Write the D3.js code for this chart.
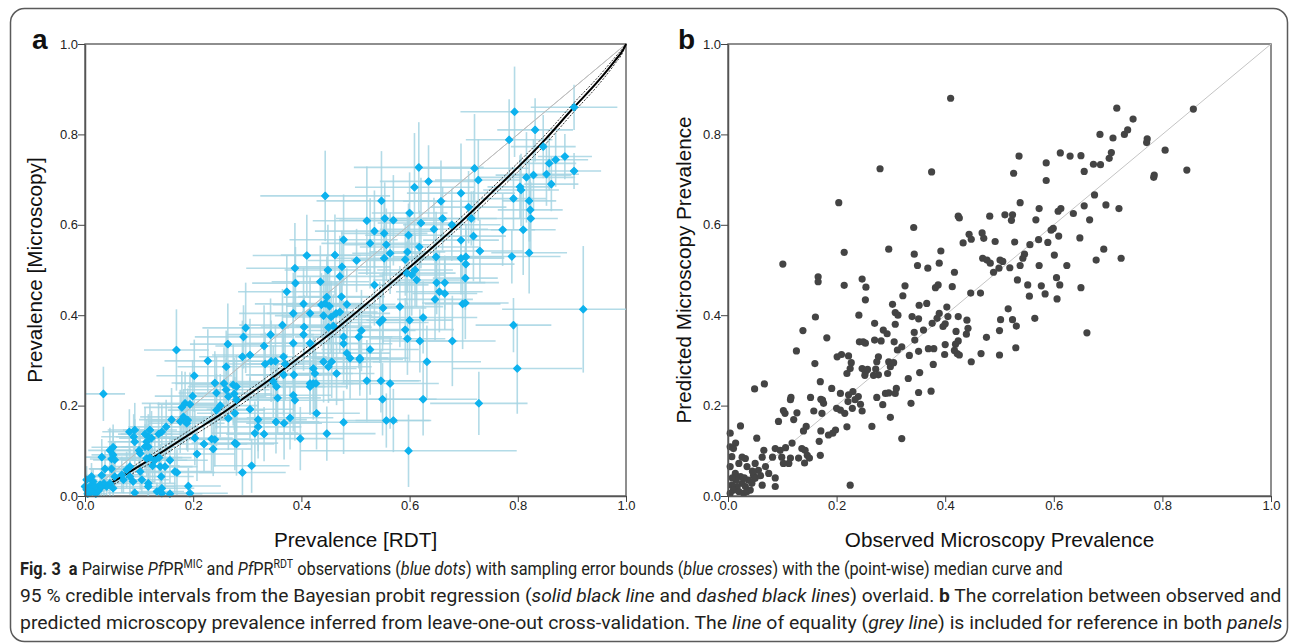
<!DOCTYPE html>
<html>
<head>
<meta charset="utf-8">
<script src="https://cdn.jsdelivr.net/npm/d3@7"></script>
<style>
  body { margin: 0; background: #fff; }
  svg { display: block; }
</style>
</head>
<body>
<svg id="chart" width="1293" height="644"></svg>
<script>
const width = 1293;
const height = 644;

// panel a: [rdt, mic, rdt half-width, mic half-width]
const obsA = [
  [0.794,0.85,0.10,0.10],[0.904,0.86,0.08,0.05],[0.832,0.81,0.07,0.07],[0.784,0.788,0.08,0.09],
  [0.847,0.773,0.06,0.07],[0.887,0.751,0.05,0.05],[0.870,0.744,0.06,0.06],[0.858,0.736,0.05,0.06],
  [0.853,0.712,0.06,0.07],[0.862,0.690,0.05,0.06],[0.904,0.719,0.05,0.04],[0.829,0.710,0.07,0.08],
  [0.816,0.705,0.09,0.10],[0.804,0.684,0.06,0.07],[0.806,0.677,0.07,0.08],[0.792,0.658,0.06,0.07],
  [0.821,0.653,0.05,0.09],[0.823,0.633,0.06,0.07],[0.824,0.614,0.05,0.08],[0.81,0.589,0.06,0.10],
  [0.821,0.538,0.07,0.09],[0.772,0.589,0.06,0.08],[0.789,0.53,0.09,0.06],[0.72,0.725,0.10,0.12],
  [0.727,0.699,0.08,0.09],[0.695,0.670,0.10,0.11],[0.709,0.639,0.07,0.08],[0.714,0.614,0.09,0.06],
  [0.718,0.575,0.06,0.10],[0.73,0.542,0.08,0.07],[0.617,0.727,0.12,0.10],[0.635,0.696,0.09,0.08],
  [0.609,0.683,0.11,0.12],[0.658,0.652,0.07,0.09],[0.661,0.614,0.10,0.07],[0.621,0.604,0.08,0.10],
  [0.678,0.60,0.09,0.08],[0.695,0.566,0.07,0.09],[0.645,0.59,0.10,0.07],[0.649,0.529,0.08,0.10],
  [0.618,0.551,0.11,0.08],[0.598,0.577,0.08,0.07],[0.596,0.54,0.07,0.09],[0.592,0.523,0.10,0.08],
  [0.595,0.493,0.09,0.07],[0.61,0.50,0.07,0.08],[0.613,0.478,0.08,0.06],[0.604,0.489,0.06,0.09],
  [0.695,0.526,0.08,0.08],[0.704,0.529,0.07,0.06],[0.704,0.513,0.09,0.09],[0.703,0.482,0.06,0.07],
  [0.698,0.425,0.07,0.10],[0.703,0.427,0.08,0.08],[0.65,0.472,0.09,0.07],[0.655,0.452,0.08,0.09],
  [0.665,0.448,0.06,0.08],[0.665,0.472,0.10,0.06],[0.647,0.435,0.07,0.09],[0.792,0.378,0.07,0.06],
  [0.799,0.282,0.12,0.10],[0.728,0.205,0.09,0.07],[0.921,0.413,0.15,0.14],[0.679,0.343,0.08,0.10],
  [0.632,0.297,0.10,0.08],[0.625,0.214,0.10,0.08],[0.598,0.10,0.20,0.08],[0.548,0.653,0.12,0.11],
  [0.554,0.614,0.09,0.08],[0.57,0.61,0.10,0.10],[0.60,0.626,0.07,0.09],[0.535,0.586,0.11,0.09],
  [0.553,0.581,0.08,0.07],[0.527,0.559,0.09,0.10],[0.521,0.609,0.10,0.12],[0.557,0.556,0.08,0.08],
  [0.564,0.537,0.07,0.09],[0.553,0.526,0.09,0.07],[0.535,0.467,0.10,0.09],[0.551,0.416,0.08,0.08],
  [0.545,0.384,0.09,0.09],[0.55,0.39,0.07,0.07],[0.564,0.249,0.09,0.10],[0.55,0.214,0.10,0.08],
  [0.557,0.167,0.08,0.06],[0.57,0.167,0.07,0.07],[0.582,0.419,0.08,0.09],[0.592,0.368,0.09,0.07],
  [0.596,0.348,0.07,0.08],[0.60,0.389,0.08,0.09],[0.619,0.343,0.07,0.07],[0.625,0.395,0.10,0.08],
  [0.527,0.324,0.09,0.10],[0.508,0.302,0.08,0.08],[0.521,0.255,0.10,0.09],[0.547,0.255,0.07,0.07],
  [0.478,0.567,0.10,0.10],[0.475,0.507,0.09,0.08],[0.471,0.486,0.08,0.09],[0.502,0.521,0.09,0.07],
  [0.462,0.533,0.10,0.09],[0.449,0.50,0.08,0.10],[0.435,0.474,0.09,0.08],[0.444,0.664,0.12,0.10],
  [0.41,0.532,0.10,0.09],[0.388,0.504,0.09,0.10],[0.389,0.471,0.08,0.08],[0.385,0.404,0.10,0.09],
  [0.404,0.425,0.09,0.08],[0.405,0.374,0.08,0.07],[0.385,0.338,0.09,0.09],[0.416,0.404,0.08,0.08],
  [0.437,0.423,0.09,0.07],[0.444,0.426,0.07,0.08],[0.447,0.44,0.08,0.09],[0.455,0.396,0.09,0.08],
  [0.464,0.404,0.10,0.07],[0.452,0.42,0.08,0.08],[0.471,0.407,0.07,0.09],[0.484,0.424,0.09,0.08],
  [0.474,0.441,0.08,0.07],[0.441,0.399,0.09,0.09],[0.45,0.373,0.08,0.08],[0.459,0.376,0.07,0.07],
  [0.478,0.352,0.09,0.08],[0.511,0.366,0.10,0.09],[0.506,0.352,0.08,0.07],[0.478,0.337,0.09,0.09],
  [0.484,0.316,0.08,0.08],[0.49,0.305,0.07,0.09],[0.508,0.305,0.09,0.07],[0.404,0.357,0.08,0.08],
  [0.416,0.338,0.09,0.09],[0.422,0.282,0.08,0.07],[0.425,0.271,0.07,0.08],[0.416,0.249,0.08,0.07],
  [0.422,0.249,0.09,0.08],[0.416,0.242,0.07,0.06],[0.427,0.249,0.08,0.07],[0.456,0.297,0.09,0.08],
  [0.441,0.297,0.08,0.09],[0.465,0.271,0.07,0.07],[0.45,0.286,0.08,0.08],[0.398,0.127,0.08,0.07],
  [0.447,0.138,0.09,0.06],[0.428,0.183,0.08,0.08],[0.478,0.163,0.10,0.07],[0.388,0.212,0.09,0.09],
  [0.385,0.223,0.07,0.08],[0.386,0.268,0.08,0.08],
  [0.169,0.323,0.06,0.09],[0.034,0.226,0.04,0.06],[0.202,0.266,0.07,0.08],[0.227,0.299,0.08,0.07],
  [0.261,0.286,0.09,0.08],[0.264,0.336,0.07,0.09],[0.291,0.308,0.08,0.08],[0.293,0.352,0.09,0.07],
  [0.297,0.372,0.08,0.10],[0.305,0.312,0.07,0.08],[0.331,0.332,0.09,0.09],[0.343,0.357,0.08,0.08],
  [0.333,0.292,0.07,0.07],[0.344,0.298,0.08,0.09],[0.352,0.298,0.09,0.08],[0.367,0.308,0.08,0.07],
  [0.37,0.292,0.07,0.08],[0.348,0.253,0.08,0.08],[0.354,0.242,0.09,0.07],[0.367,0.268,0.07,0.09],
  [0.356,0.217,0.08,0.08],[0.24,0.25,0.08,0.07],[0.243,0.228,0.07,0.08],[0.257,0.249,0.09,0.08],
  [0.261,0.235,0.08,0.07],[0.265,0.22,0.07,0.08],[0.274,0.246,0.08,0.09],[0.28,0.242,0.09,0.07],
  [0.276,0.226,0.07,0.08],[0.28,0.213,0.08,0.07],[0.277,0.183,0.07,0.08],[0.265,0.172,0.08,0.07],
  [0.243,0.19,0.09,0.08],[0.25,0.20,0.07,0.07],[0.179,0.196,0.07,0.08],[0.185,0.205,0.08,0.07],
  [0.194,0.203,0.06,0.07],[0.199,0.221,0.07,0.08],[0.182,0.175,0.08,0.06],[0.19,0.168,0.07,0.07],
  [0.176,0.165,0.06,0.07],[0.188,0.161,0.07,0.06],[0.203,0.128,0.07,0.06],[0.22,0.115,0.08,0.06],
  [0.234,0.126,0.07,0.07],[0.24,0.125,0.08,0.06],[0.237,0.104,0.07,0.06],[0.277,0.117,0.08,0.06],
  [0.28,0.115,0.07,0.07],[0.207,0.093,0.07,0.06],[0.191,0.022,0.06,0.04],[0.17,0.052,0.07,0.05],
  [0.305,0.192,0.08,0.07],[0.32,0.169,0.09,0.07],[0.291,0.052,0.08,0.05],[0.308,0.067,0.07,0.06],
  [0.314,0.139,0.08,0.07],[0.331,0.137,0.07,0.06],[0.32,0.153,0.08,0.07],[0.353,0.164,0.08,0.07],
  [0.368,0.161,0.07,0.08],[0.379,0.173,0.08,0.07],[0.16,0.169,0.06,0.07],[0.15,0.153,0.07,0.06],
  [0.142,0.142,0.06,0.06],[0.136,0.137,0.07,0.07],[0.123,0.128,0.06,0.06],[0.12,0.146,0.05,0.06],
  [0.117,0.131,0.06,0.05],[0.111,0.137,0.05,0.06],[0.114,0.12,0.06,0.05],[0.092,0.146,0.05,0.06],
  [0.082,0.142,0.05,0.05],[0.09,0.131,0.06,0.05],[0.092,0.12,0.05,0.05],[0.111,0.109,0.06,0.05],
  [0.117,0.109,0.05,0.05],[0.10,0.101,0.06,0.05],[0.102,0.094,0.05,0.05],[0.12,0.085,0.06,0.05],
  [0.114,0.083,0.05,0.04],[0.129,0.079,0.06,0.05],[0.139,0.065,0.06,0.05],[0.125,0.067,0.05,0.04],
  [0.137,0.085,0.06,0.05],[0.157,0.079,0.07,0.05],[0.148,0.065,0.06,0.05],[0.166,0.054,0.07,0.05],
  [0.141,0.043,0.06,0.04],[0.117,0.028,0.05,0.03],[0.142,0.017,0.06,0.03],[0.133,0.01,0.05,0.02],
  [0.117,0.021,0.05,0.03],[0.102,0.054,0.05,0.04],[0.105,0.036,0.05,0.03],[0.089,0.032,0.04,0.03],
  [0.083,0.043,0.05,0.04],[0.071,0.036,0.04,0.03],[0.068,0.047,0.04,0.04],[0.077,0.058,0.05,0.04],
  [0.083,0.065,0.05,0.04],[0.052,0.091,0.04,0.05],[0.049,0.082,0.04,0.04],[0.055,0.08,0.04,0.04],
  [0.031,0.086,0.03,0.04],[0.046,0.101,0.04,0.05],[0.052,0.108,0.04,0.05],[0.037,0.06,0.03,0.04],
  [0.031,0.046,0.03,0.03],[0.049,0.06,0.04,0.04],[0.055,0.043,0.04,0.03],[0.046,0.028,0.03,0.03],
  [0.052,0.017,0.04,0.02],[0.04,0.021,0.03,0.02],[0.028,0.025,0.03,0.02],[0.015,0.032,0.02,0.03],
  [0.009,0.021,0.02,0.02],[0.003,0.014,0.01,0.02],[0.0,0.021,0.01,0.02],[0.003,0.036,0.02,0.03],
  [0.012,0.043,0.02,0.03],[0.092,0.007,0.05,0.01],[0.142,0.006,0.06,0.01],[0.157,0.005,0.06,0.01],
  [0.194,0.006,0.07,0.01],[0.373,0.452,0.09,0.08],[0.365,0.378,0.08,0.08],
  [0.005,0.005,0.01,0.01],[0.01,0.008,0.02,0.01],[0.015,0.01,0.02,0.02],[0.02,0.005,0.02,0.01],
  [0.008,0.015,0.01,0.02],[0.025,0.012,0.02,0.02],[0.03,0.02,0.03,0.02],[0.035,0.028,0.03,0.03],
  [0.018,0.022,0.02,0.02]
];

// probit regression: median and 95% credible interval
const curveRdt   = [0, 0.01, 0.02, 0.05, 0.1, 0.15, 0.2, 0.25, 0.3, 0.35, 0.4, 0.45, 0.5, 0.55, 0.6, 0.65, 0.7, 0.75, 0.8, 0.85, 0.9, 0.95, 0.98, 0.995, 1];
const curveMed   = [0, 0.005, 0.011, 0.030, 0.066, 0.103, 0.142, 0.180, 0.222, 0.265, 0.310, 0.356, 0.405, 0.455, 0.506, 0.558, 0.612, 0.669, 0.727, 0.788, 0.855, 0.920, 0.964, 0.988, 1];
const curveLower = [0, 0.003, 0.008, 0.024, 0.058, 0.094, 0.133, 0.171, 0.212, 0.255, 0.300, 0.346, 0.395, 0.445, 0.497, 0.549, 0.603, 0.659, 0.717, 0.777, 0.845, 0.911, 0.957, 0.984, 1];
const curveUpper = [0, 0.008, 0.016, 0.036, 0.074, 0.112, 0.151, 0.190, 0.232, 0.275, 0.320, 0.366, 0.415, 0.465, 0.516, 0.568, 0.622, 0.679, 0.737, 0.798, 0.865, 0.929, 0.971, 0.992, 1];

// panel b: [observed, predicted]
const obsB = [
  [0.204,0.649],[0.101,0.513],[0.214,0.539],[0.166,0.485],[0.166,0.474],[0.214,0.466],[0.247,0.48],
  [0.254,0.462],[0.253,0.434],[0.296,0.546],[0.326,0.465],[0.322,0.443],[0.342,0.594],[0.343,0.535],
  [0.349,0.51],[0.368,0.504],[0.392,0.542],[0.389,0.515],[0.424,0.619],[0.426,0.615],[0.482,0.619],
  [0.433,0.56],[0.444,0.579],[0.448,0.568],[0.468,0.582],[0.471,0.57],[0.492,0.563],[0.469,0.526],
  [0.477,0.522],[0.483,0.515],[0.489,0.495],[0.499,0.504],[0.382,0.461],[0.387,0.467],[0.417,0.495],
  [0.413,0.463],[0.447,0.449],[0.465,0.449],[0.303,0.424],[0.308,0.406],[0.313,0.40],[0.241,0.40],
  [0.352,0.422],[0.366,0.426],[0.339,0.397],[0.351,0.392],[0.403,0.418],[0.389,0.404],[0.385,0.393],
  [0.396,0.375],[0.405,0.397],[0.40,0.381],[0.424,0.397],[0.44,0.389],[0.442,0.371],[0.439,0.358],
  [0.42,0.364],[0.424,0.343],[0.376,0.382],[0.36,0.367],[0.343,0.362],[0.344,0.345],[0.27,0.382],
  [0.286,0.367],[0.293,0.359],[0.282,0.343],[0.27,0.345],[0.308,0.38],[0.242,0.341],[0.249,0.341],
  [0.253,0.338],[0.306,0.341],[0.32,0.33],[0.312,0.323],[0.138,0.366],[0.161,0.396],[0.182,0.35],
  [0.126,0.321],[0.16,0.293],[0.201,0.308],[0.209,0.313],[0.222,0.31],[0.227,0.295],[0.219,0.271],
  [0.225,0.282],[0.277,0.308],[0.274,0.297],[0.272,0.281],[0.277,0.268],[0.296,0.297],[0.299,0.286],
  [0.294,0.271],[0.305,0.295],[0.247,0.282],[0.253,0.274],[0.257,0.28],[0.252,0.267],[0.268,0.267],
  [0.334,0.311],[0.351,0.32],[0.369,0.326],[0.379,0.326],[0.40,0.335],[0.419,0.336],[0.399,0.313],
  [0.417,0.322],[0.422,0.315],[0.426,0.312],[0.378,0.291],[0.353,0.273],[0.332,0.26],[0.448,0.297],
  [0.466,0.315],[0.476,0.351],[0.50,0.366],[0.50,0.312],[0.17,0.253],[0.191,0.238],[0.207,0.227],
  [0.222,0.224],[0.23,0.231],[0.24,0.22],[0.234,0.213],[0.274,0.218],[0.285,0.202],[0.29,0.227],
  [0.296,0.228],[0.308,0.227],[0.31,0.238],[0.265,0.154],[0.299,0.174],[0.337,0.205],[0.351,0.229],
  [0.374,0.232],[0.32,0.127],[0.225,0.024],[0.247,0.188],[0.244,0.203],[0.229,0.194],[0.221,0.209],
  [0.215,0.183],[0.207,0.19],[0.20,0.194],[0.219,0.153],[0.198,0.146],[0.185,0.135],[0.193,0.139],
  [0.171,0.144],[0.174,0.212],[0.176,0.205],[0.171,0.214],[0.158,0.188],[0.152,0.218],[0.173,0.183],
  [0.116,0.218],[0.115,0.213],[0.105,0.183],[0.102,0.189],[0.127,0.184],[0.121,0.169],[0.139,0.144],
  [0.144,0.154],[0.168,0.121],[0.17,0.09],[0.146,0.09],[0.141,0.073],[0.15,0.084],[0.142,0.101],
  [0.136,0.105],[0.13,0.084],[0.115,0.084],[0.118,0.117],[0.093,0.165],[0.067,0.248],[0.049,0.237],
  [0.023,0.155],[0.014,0.117],[0.053,0.128],[0.106,0.107],[0.096,0.101],[0.087,0.105],[0.082,0.086],
  [0.099,0.086],[0.112,0.072],[0.102,0.072],[0.066,0.101],[0.063,0.086],[0.05,0.072],[0.026,0.086],
  [0.032,0.083],[0.035,0.065],[0.02,0.072],[0.087,0.04],[0.087,0.021],[0.063,0.024],[0.075,0.05],
  [0.069,0.065],[0.056,0.057],[0.047,0.046],[0.038,0.035],[0.05,0.039],[0.044,0.028],[0.004,0.065],
  [0.007,0.087],[0.004,0.109],[0.01,0.105],[0.004,0.139],[0.0135,0.05],[0.023,0.043],[0.026,0.028],
  [0.017,0.021],[0.007,0.024],[0.032,0.021],[0.041,0.013],[0.01,0.013],[0.02,0.01],[0.004,0.006],
  [0.029,0.006],[0.035,0.01],[0.015,0.035],[0.03,0.04],[0.06,0.045],[0.045,0.055],[0.008,0.04],
  [0.41,0.88],[0.375,0.717],[0.28,0.724],[0.716,0.858],[0.746,0.834],[0.857,0.856],[0.685,0.80],
  [0.709,0.792],[0.73,0.80],[0.736,0.81],[0.772,0.79],[0.771,0.782],[0.805,0.765],[0.785,0.71],
  [0.784,0.705],[0.845,0.721],[0.536,0.752],[0.586,0.737],[0.612,0.759],[0.63,0.752],[0.65,0.753],
  [0.656,0.718],[0.673,0.734],[0.686,0.733],[0.702,0.747],[0.706,0.76],[0.526,0.714],[0.586,0.698],
  [0.675,0.666],[0.696,0.644],[0.72,0.636],[0.656,0.642],[0.666,0.611],[0.636,0.625],[0.613,0.636],
  [0.608,0.63],[0.573,0.636],[0.538,0.649],[0.51,0.622],[0.524,0.622],[0.522,0.61],[0.567,0.611],
  [0.599,0.592],[0.595,0.588],[0.648,0.571],[0.609,0.575],[0.589,0.561],[0.572,0.567],[0.556,0.556],
  [0.528,0.562],[0.692,0.546],[0.678,0.522],[0.724,0.526],[0.601,0.533],[0.546,0.535],[0.543,0.526],
  [0.624,0.51],[0.573,0.51],[0.538,0.51],[0.519,0.505],[0.501,0.522],[0.506,0.519],[0.605,0.483],
  [0.611,0.467],[0.65,0.461],[0.533,0.478],[0.552,0.467],[0.577,0.465],[0.584,0.447],[0.555,0.442],
  [0.606,0.436],[0.516,0.414],[0.524,0.39],[0.531,0.376],[0.502,0.39],[0.565,0.393],[0.661,0.361],
  [0.53,0.328]
];

const tickValues = [0, 0.2, 0.4, 0.6, 0.8, 1.0];

const svg = d3.select("#chart");

// outer frame of the figure
svg.append("rect")
    .attr("x", 10.5).attr("y", 8.5)
    .attr("width", 1277).attr("height", 633)
    .attr("rx", 14)
    .attr("fill", "none")
    .attr("stroke", "#5a5a5a")
    .attr("stroke-width", 1.5);

function panel(left, right, top, bottom) {
    const x = d3.scaleLinear().domain([0, 1]).range([left, right]);
    const y = d3.scaleLinear().domain([0, 1]).range([bottom, top]);
    const g = svg.append("g");

    g.append("rect")
        .attr("x", left).attr("y", top)
        .attr("width", right - left).attr("height", bottom - top)
        .attr("fill", "none")
        .attr("stroke", "#6a6a6a")
        .attr("stroke-width", 1.5);

    g.append("line")
        .attr("x1", x(0)).attr("y1", y(0))
        .attr("x2", x(1)).attr("y2", y(1))
        .attr("stroke", "#c4c4c4")
        .attr("stroke-width", 1);

    return { x, y, g };
}

function axes(p) {
    const { x, y, g } = p;
    const ax = g.append("g")
        .attr("transform", `translate(0,${y(0)})`)
        .call(d3.axisBottom(x).tickValues(tickValues).tickFormat(d3.format(".1f"))
            .tickSize(6).tickPadding(-1).tickSizeOuter(0));
    const ay = g.append("g")
        .attr("transform", `translate(${x(0)},0)`)
        .call(d3.axisLeft(y).tickValues(tickValues).tickFormat(d3.format(".1f"))
            .tickSize(7).tickPadding(0).tickSizeOuter(0));
    [ax, ay].forEach(a => {
        a.select(".domain").attr("stroke", "#555").attr("stroke-width", 1.5);
        a.selectAll(".tick line").attr("stroke", "#444");
        a.selectAll(".tick text")
            .style("font-family", '"Liberation Sans", Arial, sans-serif')
            .style("font-size", "13px")
            .attr("fill", "#222");
    });
}

// ---------- panel a ----------
const pa = panel(85, 626, 44, 496);
const clip = v => Math.max(0, Math.min(1, v));

pa.g.append("g").selectAll("line.h")
    .data(obsA).enter().append("line")
    .attr("x1", d => pa.x(clip(d[0] - d[2]))).attr("x2", d => pa.x(clip(d[0] + d[2])))
    .attr("y1", d => pa.y(d[1])).attr("y2", d => pa.y(d[1]))
    .attr("stroke", "#a6d5e3").attr("stroke-width", 1.6).attr("opacity", 0.85);

pa.g.append("g").selectAll("line.v")
    .data(obsA).enter().append("line")
    .attr("x1", d => pa.x(d[0])).attr("x2", d => pa.x(d[0]))
    .attr("y1", d => pa.y(clip(d[1] - d[3]))).attr("y2", d => pa.y(clip(d[1] + d[3])))
    .attr("stroke", "#a6d5e3").attr("stroke-width", 1.6).attr("opacity", 0.85);

// equality line again on top of the crosses
pa.g.append("line")
    .attr("x1", pa.x(0)).attr("y1", pa.y(0))
    .attr("x2", pa.x(1)).attr("y2", pa.y(1))
    .attr("stroke", "#bdbdbd").attr("stroke-width", 1);

const curveLine = vals => d3.line()
    .x((d, i) => pa.x(curveRdt[i]))
    .y((d, i) => pa.y(vals[i]))
    .curve(d3.curveMonotoneX)(vals);

[curveLower, curveUpper].forEach(vals => {
    pa.g.append("path")
        .attr("d", curveLine(vals))
        .attr("fill", "none").attr("stroke", "#222")
        .attr("stroke-width", 0.9).attr("stroke-dasharray", "2,1.5");
});
pa.g.append("path")
    .attr("d", curveLine(curveMed))
    .attr("fill", "none").attr("stroke", "#000").attr("stroke-width", 2);

pa.g.append("g").selectAll("path")
    .data(obsA).enter().append("path")
    .attr("d", d3.symbol().type(d3.symbolSquare).size(26))
    .attr("transform", d => `translate(${pa.x(d[0])},${pa.y(d[1])}) rotate(45)`)
    .attr("fill", "#0db2ee")
    .attr("stroke", "#0db2ee").attr("stroke-width", 1.2).attr("stroke-linejoin", "round");

axes(pa);

// ---------- panel b ----------
const pb = panel(728, 1271, 44, 496);

pb.g.append("g").selectAll("circle")
    .data(obsB).enter().append("circle")
    .attr("cx", d => pb.x(d[0])).attr("cy", d => pb.y(d[1]))
    .attr("r", 3.6)
    .attr("fill", "#444");

axes(pb);

// ---------- titles ----------
const title = (txt, x, y, rot) => svg.append("text")
    .attr("transform", `translate(${x},${y})` + (rot ? " rotate(-90)" : ""))
    .attr("text-anchor", "middle")
    .style("font-family", '"Liberation Sans", Arial, sans-serif')
    .style("font-size", "20.7px")
    .attr("fill", "#111")
    .text(txt);

title("Prevalence [RDT]", 355.5, 547, false);
title("Prevalence [Microscopy]", 42, 270, true);
title("Observed Microscopy Prevalence", 999.5, 547, false);
title("Predicted Microscopy Prevalence", 691, 270, true);

[["a", 32, 49], ["b", 678, 49]].forEach(([t, x, y]) => {
    svg.append("text")
        .attr("x", x).attr("y", y)
        .style("font-family", '"Liberation Sans", Arial, sans-serif')
        .style("font-size", "28px").style("font-weight", "bold")
        .attr("fill", "#111")
        .text(t);
});

// ---------- caption ----------
const captionLines = [
    { y: 575, len: 1043, parts: [
        ["Fig. 3", "b"], ["  ", ""], ["a", "b"], [" Pairwise ", ""], ["Pf", "i"], ["PR", ""], ["MIC", "sup"],
        [" and ", ""], ["Pf", "i"], ["PR", ""], ["RDT", "sup"], [" observations (", ""], ["blue dots", "i"],
        [") with sampling error bounds (", ""], ["blue crosses", "i"], [") with the (point-wise) median curve and", ""]
    ]},
    { y: 602, len: 1263, parts: [
        ["95 % credible intervals from the Bayesian probit regression (", ""], ["solid black line", "i"],
        [" and ", ""], ["dashed black lines", "i"], [") overlaid. ", ""], ["b", "b"],
        [" The correlation between observed and", ""]
    ]},
    { y: 629, len: 1263, parts: [
        ["predicted microscopy prevalence inferred from leave-one-out cross-validation. The ", ""], ["line", "i"],
        [" of equality (", ""], ["grey line", "i"], [") is included for reference in both ", ""], ["panels", "i"]
    ]}
];

// each line is set in its natural width, then squeezed horizontally to the reference width
captionLines.forEach(line => {
    const t = svg.append("text")
        .attr("x", 0).attr("y", 0)
        .style("font-family", 'Roboto, "Liberation Sans", sans-serif')
        .style("font-size", "18.5px")
        .style("white-space", "pre")
        .attr("fill", "#231f20");
    let raised = false;
    line.parts.forEach(([s, k]) => {
        const ts = t.append("tspan").text(s);
        if (k === "b") ts.style("font-weight", "bold");
        if (k === "i") ts.style("font-style", "italic");
        if (k === "sup") {
            ts.style("font-size", "12px").attr("dy", -7);
            raised = true;
        } else if (raised) {
            ts.attr("dy", 7);
            raised = false;
        }
    });
    const natural = t.node().getComputedTextLength();
    t.attr("transform", `translate(20,${line.y}) scale(${line.len / natural},1)`);
});
</script>
</body>
</html>
